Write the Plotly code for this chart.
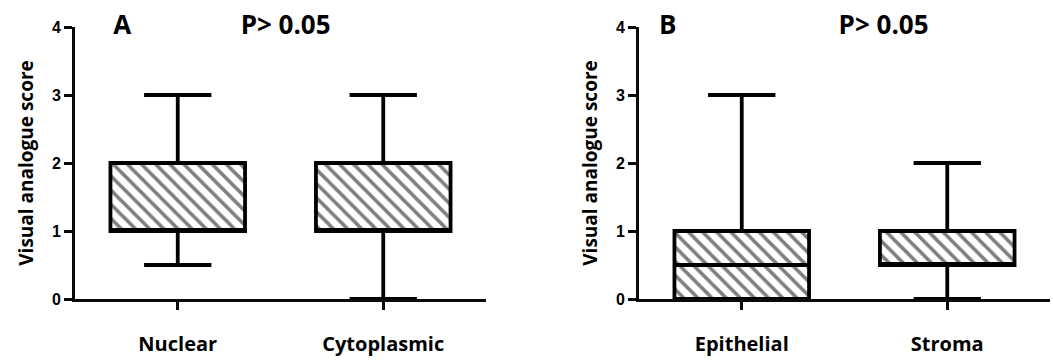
import plotly.graph_objects as go

# ---- data ----
cats_a = ["Nuclear", "Cytoplasmic"]
min_a = [0.5, 0.0]
q1_a = [1.0, 1.0]
med_a = [1.0, 1.0]
q3_a = [2.0, 2.0]
max_a = [3.0, 3.0]

cats_b = ["Epithelial", "Stroma"]
min_b = [0.0, 0.0]
q1_b = [0.0, 0.5]
med_b = [0.5, 0.5]
q3_b = [1.0, 1.0]
max_b = [3.0, 2.0]

panel_labels = ["A", "B"]
p_text = "P> 0.05"
y_title = "Visual analogue score"
y_ticks = [0, 1, 2, 3, 4]

BW = 0.655
LW = 3.8
AW = 3
AXC = "#0a0a0a"

fig = go.Figure()

def add_panel(cats, mn, q1, md, q3, mx, xa, ya, label, lab_x, p_x):
    pos = list(range(len(cats)))
    heights = [b - a for a, b in zip(q1, q3)]
    fig.add_trace(go.Bar(
        x=pos, y=heights, base=q1, width=[BW] * len(cats),
        marker=dict(color="white", line=dict(width=0),
                    pattern=dict(shape="\\", fgcolor="black", bgcolor="white",
                                 size=10, solidity=0.35, fillmode="overlay")),
        xaxis=xa, yaxis=ya, showlegend=False, hoverinfo="skip"))
    fig.add_trace(go.Box(
        x=pos, q1=q1, median=md, q3=q3, lowerfence=mn, upperfence=mx,
        width=BW, whiskerwidth=0.5, fillcolor="rgba(0,0,0,0)",
        line=dict(color="black", width=LW), boxpoints=False,
        xaxis=xa, yaxis=ya, showlegend=False))
    fig.add_trace(go.Scatter(
        x=[lab_x, p_x], y=[max(y_ticks)] * 2, mode="text", text=[label, p_text],
        textposition="middle center", cliponaxis=False,
        textfont=dict(family="Open Sans", size=26, color="black", weight="bold"),
        xaxis=xa, yaxis=ya, showlegend=False, hoverinfo="skip"))

add_panel(cats_a, min_a, q1_a, med_a, q3_a, max_a, "x", "y", panel_labels[0], -0.27, 0.525)
add_panel(cats_b, min_b, q1_b, med_b, q3_b, max_b, "x2", "y2", panel_labels[1], -0.36, 0.69)

W, H = 1053, 361
ml, mr, mt, mb = 75, 3, 27, 62
pw = W - ml - mr

def px(xpix):
    return (xpix - ml) / pw

xcommon = dict(range=[-0.5, 1.5], showline=True, linecolor=AXC,
               linewidth=AW, ticks="outside", ticklen=8, tickwidth=AW, tickcolor=AXC,
               showgrid=False, zeroline=False,
               tickfont=dict(family="Open Sans", size=20, color="black", weight="bold"),
               ticklabelstandoff=17)
ycommon = dict(range=[0, 4], tickvals=y_ticks, showline=True, linecolor=AXC,
               linewidth=AW, ticks="outside", ticklen=8, tickwidth=AW, tickcolor=AXC,
               showgrid=False, zeroline=False,
               tickfont=dict(family="Liberation Sans", size=16, color="black", weight="bold"),
               title=dict(text=y_title, standoff=14,
                          font=dict(family="Open Sans", size=19, color="black", weight="bold")))

fig.update_layout(
    width=W, height=H,
    margin=dict(l=ml, r=mr, t=mt, b=mb, autoexpand=False),
    paper_bgcolor="white", plot_bgcolor="white",
    barmode="overlay", boxmode="overlay",
    xaxis=dict(domain=[0, px(486)], anchor="y", tickvals=[0, 1], ticktext=cats_a, **xcommon),
    yaxis=dict(domain=[0, 1], anchor="x", **ycommon),
    xaxis2=dict(domain=[px(639), px(1050)], anchor="y2", tickvals=[0, 1], ticktext=cats_b, **xcommon),
    yaxis2=dict(domain=[0, 1], anchor="x2", **ycommon),
)

fig.write_html("out.html")
